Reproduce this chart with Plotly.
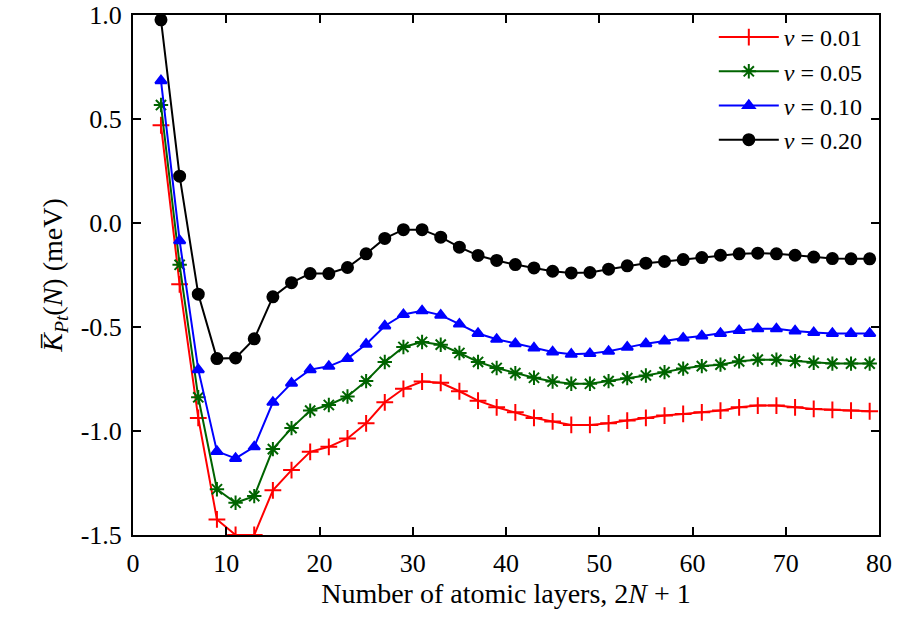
import plotly.graph_objects as go

layers = list(range(3, 80, 2))

k_v001 = [0.47, -0.295, -0.937, -1.425, -1.50, -1.50, -1.285, -1.188, -1.10, -1.076,
          -1.036, -0.963, -0.862, -0.797, -0.762, -0.768, -0.809, -0.854, -0.886, -0.91,
          -0.937, -0.954, -0.971, -0.971, -0.963, -0.950, -0.937, -0.926, -0.918, -0.91,
          -0.902, -0.886, -0.878, -0.878, -0.886, -0.894, -0.898, -0.902, -0.905]
k_v005 = [0.567, -0.201, -0.838, -1.28, -1.345, -1.313, -1.087, -0.986, -0.902, -0.875,
          -0.834, -0.760, -0.668, -0.596, -0.572, -0.585, -0.625, -0.668, -0.697, -0.722,
          -0.744, -0.762, -0.773, -0.773, -0.76, -0.746, -0.733, -0.717, -0.70, -0.688,
          -0.681, -0.665, -0.657, -0.657, -0.664, -0.672, -0.676, -0.676, -0.676]
k_v010 = [0.684, -0.085, -0.705, -1.098, -1.132, -1.076, -0.862, -0.77, -0.705, -0.689,
          -0.652, -0.583, -0.495, -0.44, -0.422, -0.443, -0.486, -0.531, -0.559, -0.58,
          -0.601, -0.62, -0.631, -0.628, -0.617, -0.597, -0.58, -0.567, -0.553, -0.543,
          -0.531, -0.517, -0.509, -0.509, -0.519, -0.527, -0.531, -0.531, -0.531]
k_v020 = [0.977, 0.225, -0.342, -0.652, -0.649, -0.557, -0.355, -0.287, -0.243, -0.243,
          -0.214, -0.148, -0.074, -0.032, -0.032, -0.068, -0.116, -0.156, -0.18, -0.20,
          -0.216, -0.232, -0.24, -0.238, -0.222, -0.206, -0.193, -0.185, -0.176, -0.166,
          -0.155, -0.148, -0.145, -0.148, -0.155, -0.164, -0.171, -0.172, -0.172]

series_names = ["<i>v</i> = 0.01", "<i>v</i> = 0.05", "<i>v</i> = 0.10", "<i>v</i> = 0.20"]
series_vals = [k_v001, k_v005, k_v010, k_v020]
colors = ["#ff0000", "#006400", "#0000ff", "#000000"]
symbols = ["cross-thin-open", "asterisk-open", "triangle-up", "circle"]
sizes = [12, 12, 10, 11]

x_ticks = [0, 10, 20, 30, 40, 50, 60, 70, 80]
y_tickvals = [1.0, 0.5, 0.0, -0.5, -1.0, -1.5]
y_ticktext = ["1.0", "0.5", "0.0", "-0.5", "-1.0", "-1.5"]

fig = go.Figure()
for name, vals, c, s, sz in zip(series_names, series_vals, colors, symbols, sizes):
    fig.add_trace(go.Scatter(
        x=layers, y=vals, name=name, mode="lines+markers",
        line=dict(color=c, width=2),
        marker=dict(symbol=s, size=sz, color=c, line=dict(color=c, width=2)),
    ))

font_family = "Liberation Serif, DejaVu Serif, serif"
axis_common = dict(
    showline=True, linecolor="black", linewidth=2, mirror="allticks",
    ticks="inside", ticklen=8, tickwidth=1.5, tickcolor="black",
    showgrid=False, zeroline=False, automargin=False,
    tickfont=dict(family=font_family, size=26, color="black"),
)

fig.update_layout(
    width=898, height=622,
    margin=dict(l=133, r=19, t=15, b=87),
    paper_bgcolor="white", plot_bgcolor="white",
    font=dict(family=font_family, size=26, color="black"),
    xaxis=dict(range=[0, 80], tickvals=x_ticks, ticklabelstandoff=4,
               title=dict(text="Number of atomic layers, 2<i>N</i> + 1",
                          font=dict(family=font_family, size=28), standoff=4),
               **axis_common),
    yaxis=dict(range=[-1.5, 1.0], tickvals=y_tickvals, ticktext=y_ticktext,
               ticklabelstandoff=4,
               title=dict(text="<i>K\u0305</i><sub><i>Pt</i></sub>(<i>N</i>) (meV)",
                          font=dict(family=font_family, size=28), standoff=10),
               **axis_common),
    legend=dict(x=0.985, y=1.0, xanchor="right", yanchor="top",
                bgcolor="rgba(255,255,255,0)", borderwidth=0,
                font=dict(family=font_family, size=24), itemwidth=60,
                tracegroupgap=0),
    showlegend=True,
)

fig.write_html("out.html")
